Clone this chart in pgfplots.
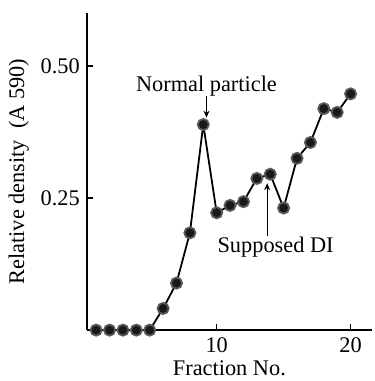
\documentclass[border=0pt]{standalone}
\usepackage{fontspec}
\setmainfont{Liberation Serif}
\usepackage{pgfplots}
\pgfplotsset{compat=1.18}
\usetikzlibrary{arrows.meta}
\begin{document}
\begin{tikzpicture}
\begin{axis}[
  scale only axis,
  width=143pt, height=159pt,
  xmin=0.3, xmax=21.6, ymin=0, ymax=0.6,
  axis lines=left,
  axis line style={-, line width=0.8pt},
  xtick={10,20}, ytick={0.25,0.5},
  yticklabels={0.25,0.50},
  tick align=inside,
  major tick length=3pt,
  tick style={line width=0.8pt, black},
  /pgf/number format/assume math mode=true,
  ticklabel style={font=\fontsize{11.2}{13}\selectfont},
  label style={font=\fontsize{11.2}{13}\selectfont},
  xlabel={Fraction No.},
  ylabel={Relative density\ \ (A 590)},
  xlabel style={yshift=2.5pt},
  ylabel style={yshift=-1pt},
  clip=false,
]
\addplot[black, line width=0.9pt, mark=*, mark size=2.8pt, mark options={fill=black!90, draw=black!65}] coordinates {
(1,0) (2,0) (3,0) (4,0) (5,0) (6,0.041) (7,0.089) (8,0.184) (9,0.389) (10,0.222)
(11,0.236) (12,0.243) (13,0.287) (14,0.295) (15,0.231) (16,0.325) (17,0.355)
(18,0.419) (19,0.412) (20,0.447)
};
\node[font=\fontsize{11.2}{13}\selectfont] at (axis cs:9.24,0.462) {Normal particle};
\draw[-{Stealth[length=3.5pt,width=3pt]}, line width=0.5pt] (axis cs:9.24,0.442) -- (axis cs:9.24,0.402);
\node[font=\fontsize{11.2}{13}\selectfont] at (axis cs:14.4,0.157) {Supposed DI};
\draw[-{Stealth[length=3.5pt,width=3pt]}, line width=0.5pt] (axis cs:13.77,0.179) -- (axis cs:13.77,0.278);
\end{axis}
\pgfresetboundingbox
\useasboundingbox ([xshift=-43.5pt,yshift=-25.5pt]current axis.south west) rectangle ([xshift=1pt,yshift=6.5pt]current axis.north east);
\end{tikzpicture}
\end{document}
